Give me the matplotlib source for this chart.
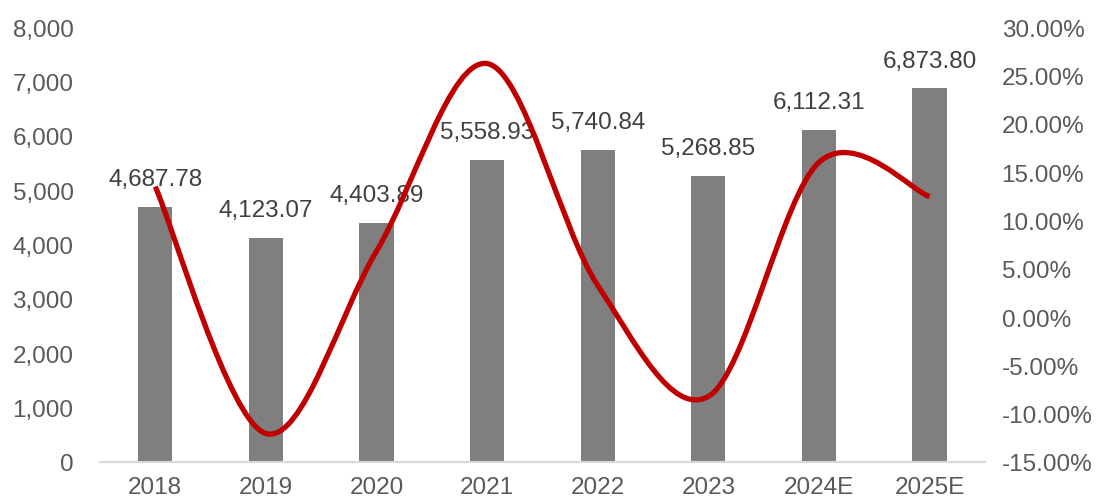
import matplotlib.pyplot as plt
from matplotlib.path import Path
from matplotlib.patches import PathPatch
from matplotlib.ticker import FuncFormatter

plt.rcParams['font.family'] = ['Liberation Sans', 'DejaVu Sans']

years = ["2018", "2019", "2020", "2021", "2022", "2023", "2024E", "2025E"]
revenue = [4687.78, 4123.07, 4403.89, 5558.93, 5740.84, 5268.85, 6112.31, 6873.80]
growth = [13.5, -12.05, 6.81, 26.23, 3.27, -8.22, 16.01, 12.46]  # percent

txt = "#595959"
fig = plt.figure(figsize=(10.98, 5.02), dpi=100)
ax = fig.add_axes([0.091, 0.0777, 0.806, 0.8663])
x = list(range(len(years)))

ax.bar(x, revenue, width=0.31, color="#7f7f7f", zorder=2)
for xi, v in zip(x, revenue):
    ax.annotate(f"{v:,.2f}", (xi, v), xytext=(0, 12), textcoords="offset points",
                ha="center", va="bottom", fontsize=17.5, color="#404040", zorder=5)

ax.set_xlim(-0.5, len(years) - 0.5)
ax.set_ylim(0, 8000)
ax.set_yticks(range(0, 8001, 1000))
ax.yaxis.set_major_formatter(FuncFormatter(lambda v, p: f"{v:,.0f}"))
ax.set_xticks(x)
ax.set_xticklabels(years)
ax.tick_params(axis="both", length=0, labelsize=17.5, labelcolor=txt)
ax.tick_params(axis="y", pad=19)
ax.tick_params(axis="x", pad=10)
for s in ["top", "left", "right"]:
    ax.spines[s].set_visible(False)
ax.spines["bottom"].set_color("#d9d9d9")
ax.spines["bottom"].set_linewidth(1.5)

ax2 = ax.twinx()
ax2.set_ylim(-15, 30)
ax2.set_yticks(range(-15, 31, 5))
ax2.yaxis.set_major_formatter(FuncFormatter(lambda v, p: f"{v:.2f}%"))
ax2.tick_params(axis="y", length=0, labelsize=17.5, labelcolor=txt, pad=12)
for s in ax2.spines.values():
    s.set_visible(False)

# smoothed line (Catmull-Rom as cubic Bezier segments)
pts = list(zip(x, growth))
verts = [pts[0]]
codes = [Path.MOVETO]
n = len(pts)
for i in range(n - 1):
    p0 = pts[i - 1] if i > 0 else pts[i]
    p1 = pts[i]
    p2 = pts[i + 1]
    p3 = pts[i + 2] if i + 2 < n else pts[i + 1]
    c1 = (p1[0] + (p2[0] - p0[0]) / 6, p1[1] + (p2[1] - p0[1]) / 6)
    c2 = (p2[0] - (p3[0] - p1[0]) / 6, p2[1] - (p3[1] - p1[1]) / 6)
    verts += [c1, c2, p2]
    codes += [Path.CURVE4] * 3
ax2.add_patch(PathPatch(Path(verts, codes), fill=False, edgecolor="#c00000",
                        linewidth=3.8, capstyle="butt", zorder=3))

fig.savefig("out.png", dpi=100)
